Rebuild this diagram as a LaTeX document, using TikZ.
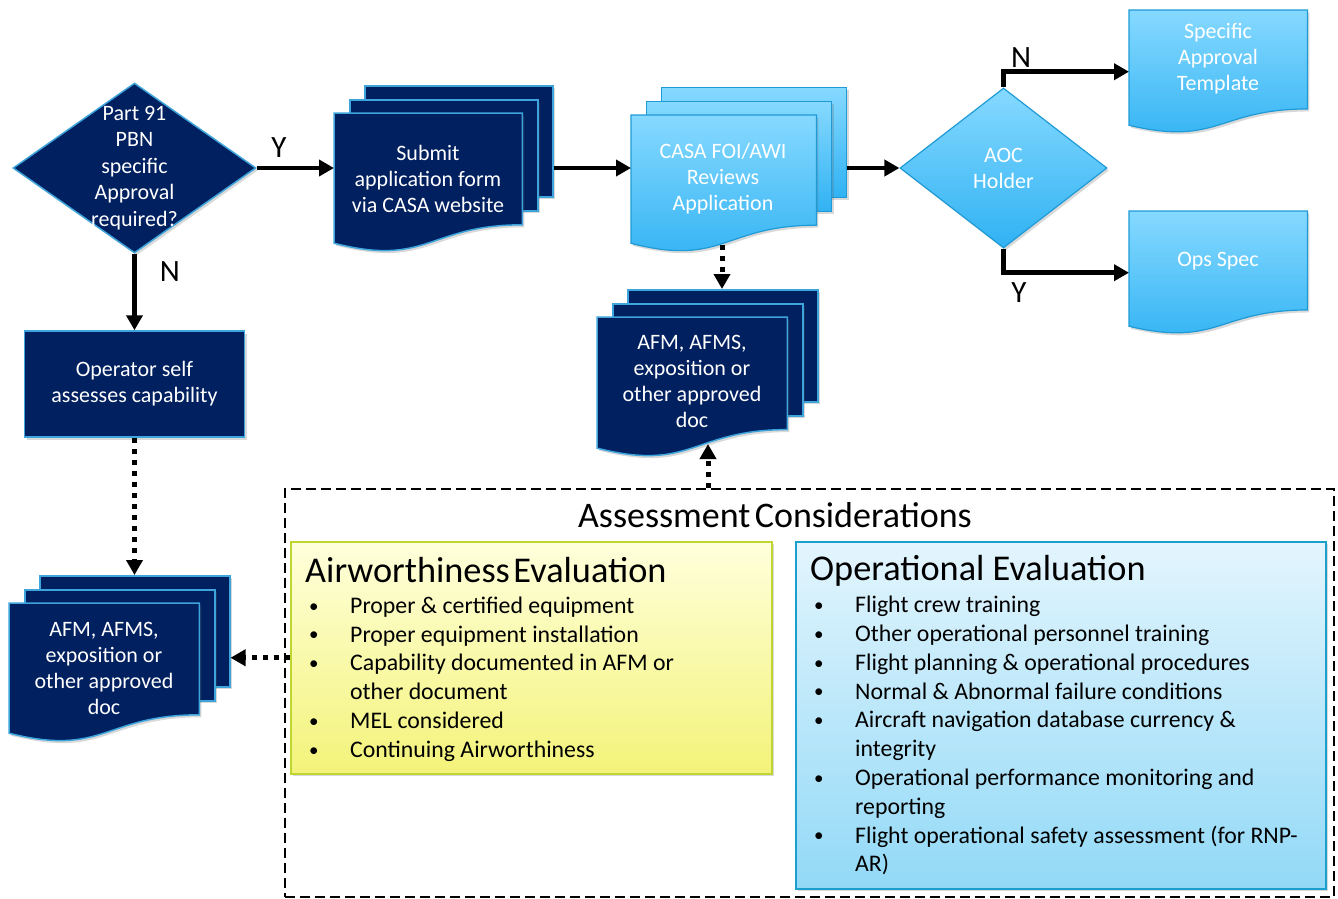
\documentclass[tikz,border=0pt]{standalone}
\usepackage{fontspec}
\setmainfont{Carlito}
\usetikzlibrary{shapes.geometric,arrows.meta,calc,shadows}
\definecolor{navy}{HTML}{002060}
\definecolor{navyedge}{HTML}{3DA5DC}
\definecolor{ltop}{HTML}{86D9FF}
\definecolor{lbot}{HTML}{30B2F3}
\definecolor{ledge}{HTML}{1E9BD7}
\definecolor{ytop}{HTML}{FFFFDC}
\definecolor{ybot}{HTML}{F3F37A}
\definecolor{yedge}{HTML}{BFD630}
\definecolor{btop}{HTML}{E3F5FD}
\definecolor{bbot}{HTML}{92D9F7}
\definecolor{bedge}{HTML}{1B9FCC}
\newcommand\docpath[2]{\path[#2] (#1.north west) -- (#1.north east) -- ($(#1.north east)!0.802!(#1.south east)$) .. controls ($(#1.north)!0.802!(#1.south)$) and ($(#1.north)!1.107!(#1.south)$) .. ($(#1.north west)!0.934!(#1.south west)$) -- cycle;}
\newcommand\itm{\makebox[45pt][l]{\hspace{4pt}\raisebox{1.2pt}{\fontsize{19}{19}\selectfont\textbullet}}}
\newcommand\contline{\hspace*{45pt}}
\tikzset{
  shad/.style={drop shadow={shadow xshift=2pt, shadow yshift=-2.5pt, opacity=0.25, fill=black!60}},
  darkfill/.style={fill=navy, draw=navyedge, line width=1.5pt, shad},
  lightfill/.style={top color=ltop, bottom color=lbot, draw=ledge, line width=1.2pt, shad},
  frame/.style={rectangle, inner sep=0pt, anchor=north west},
  wtext/.style={align=center, text=white, inner sep=0pt, font=\fontsize{22}{26}\selectfont},
  conn/.style={line width=4.5pt, -{Triangle[length=15pt,width=16pt]}},
  dotconn/.style={line width=5pt, dash pattern=on 5pt off 6pt, -{Triangle[length=15pt,width=16pt]}},
  yn/.style={inner sep=0pt, font=\fontsize{31}{31}\selectfont},
  listtext/.style={align=left, inner sep=0pt, anchor=north west, font=\fontsize{23.8}{28.8}\selectfont},
  bigtitle/.style={inner sep=0pt, anchor=base west, font=\fontsize{36.3}{40}\selectfont}
}
\begin{document}
\begin{tikzpicture}[x=1pt,y=-1pt]
\useasboundingbox (0,0) rectangle (1338,898);

% assessment frame
\node[frame, draw=black, line width=1.5pt, dash pattern=on 10pt off 5pt, minimum width=1049pt, minimum height=408pt] (assess) at (284,488) {};
\node[inner sep=0pt, anchor=base, font=\fontsize{36}{40}\selectfont] (assessT) at (775,527) {Assessment\hspace{0.12em}Considerations};

% airworthiness box
\node[frame, top color=ytop, bottom color=ybot, draw=yedge, line width=1.5pt, shad, minimum width=481pt, minimum height=232pt] (aw) at (290,541) {};
\node[bigtitle] (awT) at (305,582) {Airworthiness\hspace{0.1em}Evaluation};
\node[listtext] (awL) at (305,596.5) {\itm Proper \& certified equipment\\
\itm Proper equipment installation\\
\itm Capability documented in AFM or\\
\contline other document\\
\itm MEL considered\\
\itm Continuing Airworthiness};

% operational box
\node[frame, top color=btop, bottom color=bbot, draw=bedge, line width=1.5pt, shad, minimum width=530pt, minimum height=347pt] (op2) at (795,541) {};
\node[bigtitle] (opT) at (810,580) {Operational Evaluation};
\node[listtext] (opL) at (810,596) {\itm Flight crew training\\
\itm Other operational personnel training\\
\itm Flight planning \& operational procedures\\
\itm Normal \& Abnormal failure conditions\\
\itm Aircraft navigation database currency \&\\
\contline integrity\\
\itm Operational performance monitoring and\\
\contline reporting\\
\itm Flight operational safety assessment (for RNP-\\
\contline AR)};

% decision 1
\node[diamond, darkfill, minimum width=243pt, minimum height=170pt, inner sep=0pt] (d1) at (134.5,168) {};
\node[wtext, font=\fontsize{22}{26.5}\selectfont] (d1T) at (134.5,168) {Part 91\\PBN\\specific\\Approval\\required?};

% operator self
\node[rectangle, darkfill, minimum width=220pt, minimum height=106pt, wtext] (op) at (134.5,384) {Operator self\\assesses capability};

% submit multidoc
\node[frame, darkfill, minimum width=188pt, minimum height=111pt] (submitB) at (364,85) {};
\node[frame, darkfill, minimum width=188pt, minimum height=111pt] (submitM) at (349,99) {};
\node[frame, minimum width=188pt, minimum height=139pt] (submitF) at (334,113) {};
\docpath{submitF}{darkfill}
\node[wtext] (submitT) at (428,179) {Submit\\application form\\via CASA website};

% CASA multidoc
\node[frame, lightfill, minimum width=185pt, minimum height=110pt] (casaB) at (661,87) {};
\node[frame, lightfill, minimum width=185pt, minimum height=110pt] (casaM) at (646,101) {};
\node[frame, minimum width=185pt, minimum height=137pt] (casaF) at (631,115) {};
\docpath{casaF}{lightfill}
\node[wtext] (casaT) at (723,179) {CASA FOI/AWI\\Reviews\\Application};

% AOC decision
\node[diamond, lightfill, minimum width=207pt, minimum height=160pt, inner sep=0pt] (aoc) at (1003.5,168) {};
\node[wtext] (aocT) at (1003.5,168.5) {AOC\\Holder};

% outputs
\node[frame, minimum width=178pt, minimum height=123pt] (spec) at (1129,10) {};
\docpath{spec}{lightfill}
\node[wtext] (specT) at (1218,58.5) {Specific\\Approval\\Template};
\node[frame, minimum width=178pt, minimum height=123pt] (ops) at (1129,211) {};
\docpath{ops}{lightfill}
\node[wtext] (opsT) at (1218,261) {Ops Spec};

% AFM multidoc (middle)
\node[frame, darkfill, minimum width=190pt, minimum height=112pt] (afmaB) at (627,289) {};
\node[frame, darkfill, minimum width=190pt, minimum height=112pt] (afmaM) at (612,303) {};
\node[frame, minimum width=190pt, minimum height=140pt] (afmaF) at (597,317) {};
\docpath{afmaF}{darkfill}
\node[wtext] (afmaT) at (692,381.5) {AFM, AFMS,\\exposition or\\other approved\\doc};

% AFM multidoc (left)
\node[frame, darkfill, minimum width=190pt, minimum height=111pt] (afmbB) at (39,575) {};
\node[frame, darkfill, minimum width=190pt, minimum height=111pt] (afmbM) at (24,589) {};
\node[frame, minimum width=190pt, minimum height=139pt] (afmbF) at (9,603) {};
\docpath{afmbF}{darkfill}
\node[wtext] (afmbT) at (104,668.5) {AFM, AFMS,\\exposition or\\other approved\\doc};

% connectors
\draw[conn] (d1.east) -- (d1.east -| submitF.west);
\draw[conn] (d1.east -| submitB.east) -- (d1.east -| casaF.west);
\draw[conn] (aoc.west -| casaB.east) -- (aoc.west);
\draw[conn] (aoc.north) |- (spec.west);
\draw[conn] (aoc.south) |- (ops.west);
\draw[conn] (d1.south) -- (op.north);
\coordinate (casaBot) at (722,245);
\draw[dotconn] (casaBot) -- (casaBot |- afmaB.north);
\coordinate (afmaBot) at (708,444);
\draw[dotconn] (afmaBot |- assess.north) -- (afmaBot);
\draw[dotconn] (op.south) -- (op.south |- afmbB.north);
\draw[dotconn] (aw.west) -- (aw.west -| afmbB.east);

% labels
\node[yn] (lblY1) at (279,148) {Y};
\node[yn] (lblN1) at (170,272) {N};
\node[yn] (lblN2) at (1021,58) {N};
\node[yn] (lblY2) at (1019,293) {Y};
\end{tikzpicture}
\end{document}
